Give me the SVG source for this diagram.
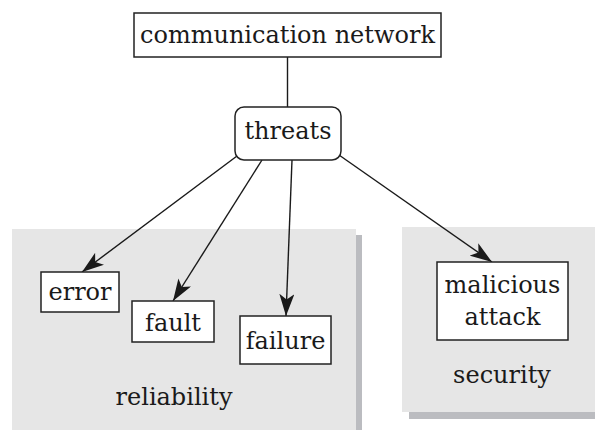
<svg xmlns="http://www.w3.org/2000/svg" width="595" height="430" viewBox="0 0 595 430">
<style>
.t{font-family:"DejaVu Serif","Liberation Serif",serif;font-size:24px;fill:#1a1a1a;text-anchor:middle}
.box{fill:#fff;stroke:#222;stroke-width:1.5}
.panel{fill:#e6e6e6}
.shadow{fill:#bbbcc0}
.conn{stroke:#1a1a1a;stroke-width:1.4;fill:none}
</style>
<defs>
<marker id="ah" viewBox="0 0 10 7" refX="10" refY="3.5" markerWidth="22" markerHeight="15" markerUnits="userSpaceOnUse" orient="auto" preserveAspectRatio="none">
<path d="M0,0 L10,3.5 L0,7 L2.5,3.5 Z" fill="#1a1a1a"/>
</marker>
</defs>
<g id="reliability">
<rect class="shadow" x="19" y="235" width="343" height="200"/>
<rect class="panel" x="12" y="229" width="344" height="206"/>
<text class="t" x="174" y="405">reliability</text>
</g>
<g id="security">
<rect class="shadow" x="409" y="234" width="190" height="185"/>
<rect class="panel" x="402" y="227" width="195" height="185"/>
<text class="t" x="502" y="383">security</text>
</g>
<g id="connectors">
<line class="conn" x1="287.5" y1="57" x2="287.5" y2="107"/>
<line class="conn" x1="237" y1="156" x2="82" y2="272" marker-end="url(#ah)"/>
<line class="conn" x1="262" y1="160" x2="173" y2="301" marker-end="url(#ah)"/>
<line class="conn" x1="292" y1="160" x2="286" y2="316" marker-end="url(#ah)"/>
<line class="conn" x1="339" y1="155" x2="492" y2="262" marker-end="url(#ah)"/>
</g>
<g id="network">
<rect class="box" x="134" y="13" width="307" height="44"/>
<text class="t" x="287.5" y="43">communication network</text>
</g>
<g id="threats">
<rect class="box" x="235" y="107" width="106" height="53" rx="9"/>
<text class="t" x="288" y="139">threats</text>
</g>
<g id="error">
<rect class="box" x="41" y="272" width="78" height="40"/>
<text class="t" x="80" y="300">error</text>
</g>
<g id="fault">
<rect class="box" x="132" y="301" width="82" height="41"/>
<text class="t" x="173" y="331">fault</text>
</g>
<g id="failure">
<rect class="box" x="240" y="316" width="91" height="48"/>
<text class="t" x="285.5" y="349">failure</text>
</g>
<g id="malicious">
<rect class="box" x="437" y="262" width="131" height="78"/>
<text class="t" x="502.5" y="293">malicious</text>
<text class="t" x="502.5" y="325">attack</text>
</g>
</svg>
